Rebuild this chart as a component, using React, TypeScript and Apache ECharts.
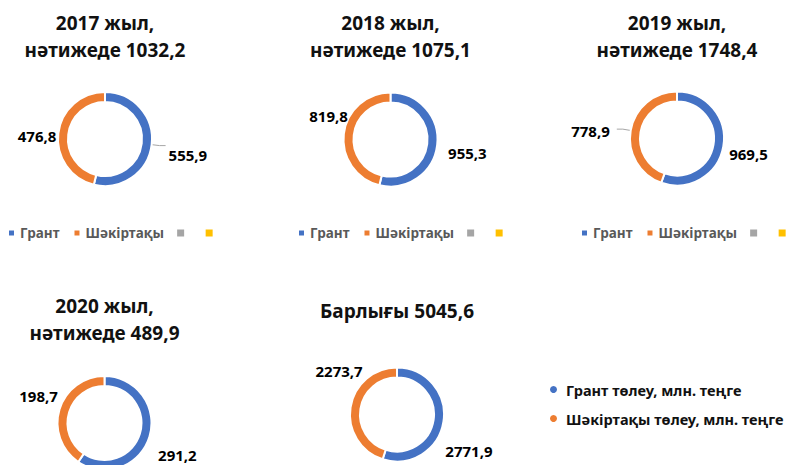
import React, { useEffect, useRef } from "react";
import * as echarts from "echarts";

const categories = ["Грант", "Шәкіртақы"];
const emptyNames = [" ", "  "];
const titles = [
  "2017 жыл,\nнәтижеде 1032,2",
  "2018 жыл,\nнәтижеде 1075,1",
  "2019 жыл,\nнәтижеде 1748,4",
  "2020 жыл,\nнәтижеде 489,9",
  "Барлығы 5045,6",
];
const grantValues = [555.9, 955.3, 969.5, 291.2, 2771.9];
const stipendValues = [476.8, 819.8, 778.9, 198.7, 2273.7];
const bigLegendSuffix = " төлеу, млн. теңге";

// layout / style
const COLORS = ["#4472C4", "#ED7D31", "#A5A5A5", "#FFC000"];
const centers: [number, number][] = [
  [105, 139],
  [390.5, 139.5],
  [677, 138.5],
  [104.5, 423],
  [397, 414.5],
];
const titleTops = [9, 9, 9, 292, 297];
const showLine = [
  [true, false],
  [false, false],
  [false, true],
  [false, false],
  [false, false],
];
// label nudges [grant, stipend] as [dx, dy]
const labelNudge: [number, number][][] = [
  [[-2, 9], [17, 4]],
  [[-8, 7], [23, -17]],
  [[-13, 6], [-2, 2]],
  [[-10, 16], [17, -11]],
  [[-17, 28], [31, -35]],
];
const legendLefts = [7, 297, 580];
const FONT = "'Noto Sans', sans-serif";

const fmt = (v: number) => v.toFixed(1).replace(".", ",");

export default function App() {
  const ref = useRef<HTMLDivElement>(null);
  useEffect(() => {
    if (!ref.current) return;
    const chart = echarts.init(ref.current, null, { renderer: "svg" });
    const series = centers.map((c, i) => ({
      type: "pie",
      center: c,
      radius: [37, 47],
      startAngle: 90,
      clockwise: true,
      avoidLabelOverlap: false,
      itemStyle: { borderColor: "#fff", borderWidth: 2 },
      label: {
        show: true,
        position: "outside",
        formatter: (p: any) => fmt(p.value),
        fontFamily: FONT,
        fontWeight: "bold",
        fontSize: 15,
        color: "#000",
      },
      labelLine: { length: 8, length2: 6, lineStyle: { color: "#A6A6A6", width: 1 } },
      labelLayout: (p: any) => {
        const n = labelNudge[i][p.dataIndex];
        return n ? { dx: n[0], dy: n[1] } : {};
      },
      emphasis: { disabled: true },
      data: [
        {
          name: categories[0],
          value: grantValues[i],
          itemStyle: { color: COLORS[0] },
          labelLine: { show: showLine[i][0] },
        },
        {
          name: categories[1],
          value: stipendValues[i],
          itemStyle: { color: COLORS[1] },
          labelLine: { show: showLine[i][1] },
        },
        {
          name: emptyNames[0],
          value: 0,
          itemStyle: { color: COLORS[2], borderWidth: 0 },
          label: { show: false },
          labelLine: { show: false },
        },
        {
          name: emptyNames[1],
          value: 0,
          itemStyle: { color: COLORS[3], borderWidth: 0 },
          label: { show: false },
          labelLine: { show: false },
        },
      ],
    }));
    const title = titles.map((t, i) => ({
      text: t,
      left: centers[i][0],
      top: titleTops[i],
      textAlign: "center",
      padding: 0,
      textStyle: {
        fontFamily: FONT,
        fontWeight: "bold",
        fontSize: 19,
        lineHeight: 27,
        color: "#111",
      },
    }));
    const legend: any[] = legendLefts.map((l) => ({
      left: l,
      top: 226,
      width: 260,
      padding: 0,
      icon: "rect",
      itemWidth: 7,
      itemHeight: 7,
      itemGap: 13,
      selectedMode: false,
      data: [...categories, ...emptyNames],
      textStyle: { fontFamily: FONT, fontWeight: "bold", fontSize: 13.5, color: "#595959" },
    }));
    legend.push({
      left: 548,
      top: 382,
      orient: "vertical",
      padding: 0,
      icon: "circle",
      itemWidth: 9,
      itemHeight: 9,
      itemGap: 14,
      selectedMode: false,
      data: categories,
      formatter: (n: string) => n + bigLegendSuffix,
      textStyle: {
        fontFamily: FONT,
        fontWeight: "bold",
        fontSize: 14.5,
        color: "#111",
        padding: [0, 0, 0, 3],
      },
    });
    chart.setOption({
      animation: false,
      backgroundColor: "#fff",
      title,
      legend,
      series,
    });
    return () => chart.dispose();
  }, []);
  return (
    <div
      ref={ref}
      style={{ position: "fixed", left: 0, top: 0, width: 795, height: 465 }}
    />
  );
}
